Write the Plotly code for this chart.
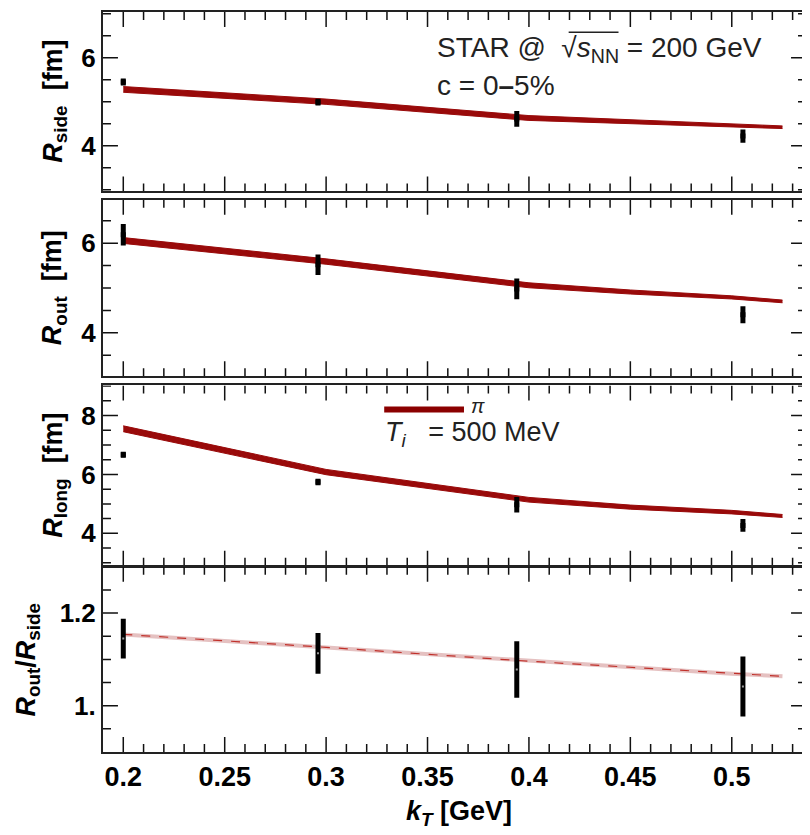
import plotly.graph_objects as go
from plotly.subplots import make_subplots

# ---------------- data ----------------
kt = [0.2, 0.296, 0.394, 0.5055]
r_side = [5.45, 4.99, 4.61, 4.22]
r_side_err = [0.08, 0.075, 0.18, 0.15]
r_out = [6.19, 5.52, 4.98, 4.40]
r_out_err = [0.24, 0.23, 0.23, 0.19]
r_long = [6.67, 5.74, 4.97, 4.27]
r_long_err = [0.10, 0.11, 0.26, 0.22]
ratio = [1.145, 1.113, 1.078, 1.0415]
ratio_err = [0.043, 0.044, 0.061, 0.065]

kt_model = [0.2, 0.3, 0.4, 0.45, 0.5, 0.525]
model_side = [5.28, 5.00, 4.63, 4.54, 4.46, 4.42]
model_side_hw = [0.065, 0.06, 0.055, 0.045, 0.035, 0.03]
model_out = [6.06, 5.59, 5.06, 4.91, 4.79, 4.70]
model_out_hw = [0.065, 0.06, 0.055, 0.045, 0.035, 0.03]
model_long = [7.55, 6.08, 5.14, 4.89, 4.72, 4.59]
model_long_hw = [0.10, 0.09, 0.08, 0.07, 0.06, 0.05]
model_ratio = [1.154, 1.126, 1.096, 1.083, 1.069, 1.0635]

ratio_alias = {"1": "1."}

# tick positions (axis decoration)
x_major_ticks = [0.2, 0.25, 0.3, 0.35, 0.4, 0.45, 0.5]
x_minor_ticks = [0.21, 0.22, 0.23, 0.24, 0.26, 0.27, 0.28, 0.29, 0.31, 0.32, 0.33,
                 0.34, 0.36, 0.37, 0.38, 0.39, 0.41, 0.42, 0.43, 0.44, 0.46, 0.47,
                 0.48, 0.49, 0.51, 0.52, 0.53]
y_major_ticks = [[4, 6], [4, 6], [4, 6, 8], [1.0, 1.2]]
y_minor_ticks = [
    [3, 3.5, 4.5, 5, 5.5, 6.5, 7],
    [3.5, 4.5, 5, 5.5, 6.5],
    [3, 3.5, 4.5, 5, 5.5, 6.5, 7, 7.5, 8.5, 9],
    [0.95, 1.05, 1.1, 1.15, 1.25],
]

# ---------------- figure geometry ----------------
BAND = "#990a0a"
FONT = "Liberation Sans"
AX = "#111111"
X_RANGE = [0.19, 0.5366]
Y_RANGES = [[2.96, 7.04], [3.03, 6.97], [2.9, 9.02], [0.9, 1.3]]
DOMAINS = [[0.7575, 1.0], [0.5078, 0.7463], [0.2517, 0.4953], [0.0, 0.2503]]
FIG_W, FIG_H = 802, 827
MARGIN = dict(l=95, r=2, t=3, b=83)
PLOT_W = FIG_W - MARGIN["l"] - MARGIN["r"]
PLOT_H = FIG_H - MARGIN["t"] - MARGIN["b"]
MAJOR_LEN, MINOR_LEN = 15, 8

fig = make_subplots(rows=4, cols=1, shared_xaxes=True, vertical_spacing=0.01)

panels = [
    (model_side, model_side_hw, r_side, r_side_err),
    (model_out, model_out_hw, r_out, r_out_err),
    (model_long, model_long_hw, r_long, r_long_err),
]
for i, (m, hw, d, e) in enumerate(panels, start=1):
    lo = [a - b for a, b in zip(m, hw)]
    hi = [a + b for a, b in zip(m, hw)]
    fig.add_trace(go.Scatter(x=kt_model, y=lo, mode="lines",
                             line=dict(color=BAND, width=1), showlegend=False,
                             hoverinfo="skip"), row=i, col=1)
    fig.add_trace(go.Scatter(x=kt_model, y=hi, mode="lines", fill="tonexty",
                             fillcolor=BAND, line=dict(color=BAND, width=1),
                             showlegend=False, hoverinfo="skip"), row=i, col=1)
    fig.add_trace(go.Scatter(x=kt, y=d, mode="markers",
                             marker=dict(symbol="square", size=5, color="black"),
                             error_y=dict(type="data", array=e, visible=True,
                                          thickness=5, width=0, color="black"),
                             showlegend=False), row=i, col=1)

# ratio panel
fig.add_trace(go.Scatter(x=kt_model, y=model_ratio, mode="lines",
                         line=dict(color="rgba(190,100,100,0.4)", width=4),
                         showlegend=False, hoverinfo="skip"), row=4, col=1)
fig.add_trace(go.Scatter(x=kt_model, y=model_ratio, mode="lines",
                         line=dict(color="#c0302a", width=1.2, dash="dash"),
                         showlegend=False, hoverinfo="skip"), row=4, col=1)
fig.add_trace(go.Scatter(x=kt, y=ratio, mode="markers",
                         marker=dict(symbol="square", size=2, color="#999999"),
                         error_y=dict(type="data", array=ratio_err, visible=True,
                                      thickness=5, width=0, color="black"),
                         showlegend=False), row=4, col=1)

# ---------------- tick marks, drawn inside each frame on all four sides ----------------
x_per_px = (X_RANGE[1] - X_RANGE[0]) / PLOT_W
for i in range(4):
    y0r, y1r = Y_RANGES[i]
    panel_px = (DOMAINS[i][1] - DOMAINS[i][0]) * PLOT_H
    y_per_px = (y1r - y0r) / panel_px
    tx, ty = [], []
    for v in x_major_ticks + x_minor_ticks:
        L = (MAJOR_LEN if v in x_major_ticks else MINOR_LEN) * y_per_px
        tx += [v, v, None, v, v, None]
        ty += [y0r, y0r + L, None, y1r, y1r - L, None]
    for v in y_major_ticks[i] + y_minor_ticks[i]:
        L = (MAJOR_LEN if v in y_major_ticks[i] else MINOR_LEN) * x_per_px
        tx += [X_RANGE[0], X_RANGE[0] + L, None, X_RANGE[1], X_RANGE[1] - L, None]
        ty += [v, v, None, v, v, None]
    fig.add_trace(go.Scatter(x=tx, y=ty, mode="lines", connectgaps=False,
                             line=dict(color=AX, width=1.5), showlegend=False,
                             hoverinfo="skip", cliponaxis=True), row=i + 1, col=1)

for r in range(1, 5):
    fig.update_xaxes(row=r, col=1, range=X_RANGE,
                     showline=True, linecolor="#222222", linewidth=2, mirror=True,
                     ticks="", showgrid=False, zeroline=False,
                     tickmode="linear", tick0=0.2, dtick=0.05,
                     tickfont=dict(family=FONT, size=27, color="black", weight="bold"))

for r in range(1, 5):
    fig.update_yaxes(row=r, col=1, range=Y_RANGES[r - 1], domain=DOMAINS[r - 1],
                     showline=True, linecolor="#222222", linewidth=2, mirror=True,
                     ticks="", showgrid=False, zeroline=False,
                     tickmode="array", tickvals=y_major_ticks[r - 1],
                     tickfont=dict(family=FONT, size=26, color="black", weight="bold"))
fig.update_yaxes(row=4, col=1, labelalias=ratio_alias)

# page body has an 8px margin: size the figure so the plot lands at the target pixels
fig.update_layout(
    width=FIG_W, height=FIG_H, margin=MARGIN,
    paper_bgcolor="white", plot_bgcolor="white",
    showlegend=False,
)

title_font = dict(family=FONT, size=27, color="black")
ann = [
    dict(text="<b><i>R</i><sub>side</sub>  [fm]</b>", x=-0.0695, y=0.879, textangle=-90),
    dict(text="<b><i>R</i><sub>out</sub>  [fm]</b>", x=-0.0695, y=0.627, textangle=-90),
    dict(text="<b><i>R</i><sub>long</sub>  [fm]</b>", x=-0.0695, y=0.3735, textangle=-90),
    dict(text="<b><i>R</i><sub>out</sub>/<i>R</i><sub>side</sub></b>", x=-0.108, y=0.125, textangle=-90),
]
for a in ann:
    fig.add_annotation(xref="paper", yref="paper", showarrow=False,
                       xanchor="center", yanchor="middle", font=title_font, **a)

fig.add_annotation(xref="paper", yref="paper", showarrow=False, x=0.506, y=-0.082,
                   xanchor="center", yanchor="middle",
                   text="<b><i>k</i><sub><i>T</i></sub> [GeV]</b>",
                   font=dict(family=FONT, size=27, color="black"))

# header text
fig.add_annotation(xref="paper", yref="paper", showarrow=False, x=0.472, y=0.949,
                   xanchor="left", yanchor="middle",
                   text="STAR @\u00a0\u00a0\u221a<i>s</i><sub>NN</sub> = 200 GeV",
                   font=dict(family=FONT, size=28, color="#222222"))
fig.add_annotation(xref="paper", yref="paper", showarrow=False, x=0.472, y=0.901,
                   xanchor="left", yanchor="middle",
                   text="c = 0<b>\u2013</b>5%",
                   font=dict(family=FONT, size=28, color="#222222"))
fig.add_shape(type="line", xref="paper", yref="paper", x0=0.6624, x1=0.7333,
              y0=0.9725, y1=0.9725, line=dict(color="#222222", width=1.5))

# legend key in panel 3
fig.add_shape(type="line", xref="paper", yref="paper", x0=0.40, x1=0.5135,
              y0=0.4629, y1=0.4629, line=dict(color="#8b0000", width=6))
fig.add_annotation(xref="paper", yref="paper", showarrow=False, x=0.52, y=0.468,
                   xanchor="left", yanchor="middle", text="<i>\u03c0</i>",
                   font=dict(family=FONT, size=20, color="#222222"))
fig.add_annotation(xref="paper", yref="paper", showarrow=False, x=0.398, y=0.4300,
                   xanchor="left", yanchor="middle",
                   text="<i>T</i><sub><i>i</i></sub>\u00a0\u00a0\u00a0= 500 MeV",
                   font=dict(family=FONT, size=27, color="#222222"))

fig.write_html("out.html")
